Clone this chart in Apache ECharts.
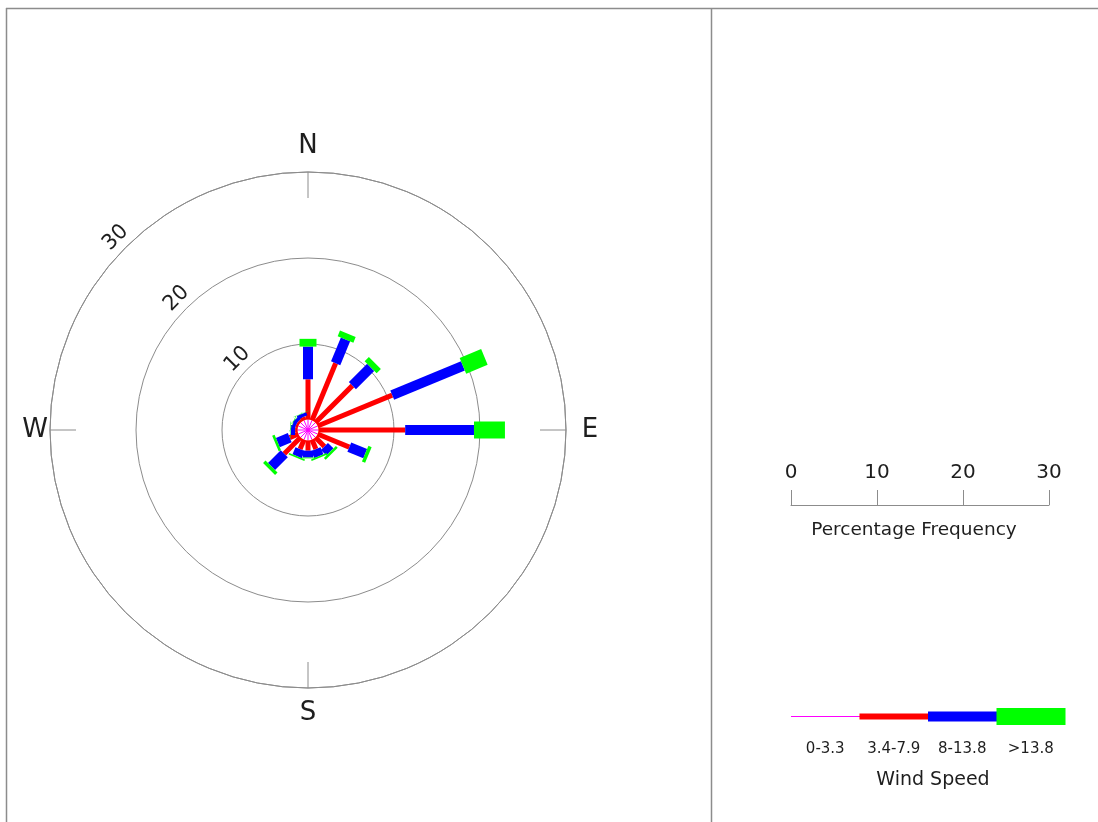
<!DOCTYPE html>
<html>
<head>
<meta charset="utf-8">
<script src="https://cdn.jsdelivr.net/npm/echarts@6/dist/echarts.min.js"></script>
<style>
  html, body { margin: 0; padding: 0; background: #fff; }
  #chart { width: 1098px; height: 822px; }
</style>
</head>
<body>
<div id="chart"></div>
<script>
// Wind direction sectors (degrees clockwise from north)
const directions = ['N', 'NNE', 'NE', 'ENE', 'E', 'ESE', 'SE', 'SSE', 'S', 'SSW', 'SW', 'WSW', 'W', 'WNW', 'NW', 'NNW'];
const dirAngles  = [0, 22.5, 45, 67.5, 90, 112.5, 135, 157.5, 180, 202.5, 225, 247.5, 270, 292.5, 315, 337.5];

// Percentage frequency per wind-speed class, one value per sector
const speed0to33   = [1.2, 1.2, 1.2, 1.2, 1.2, 1.2, 1.2, 1.2, 1.2, 1.2, 1.2, 1.2, 1.2, 1.2, 1.2, 1.2];
const speed34to79  = [4.7, 7.2, 6.1, 9.4, 10.1, 4.0, 1.5, 1.2, 1.2, 1.2, 2.7, 1.1, 0.3, 0.3, 0.3, 0.4];
const speed8to138  = [3.8, 3.0, 3.0, 8.9, 8.0, 2.0, 0.9, 0.9, 0.8, 0.9, 2.1, 1.5, 0.5, 0.4, 0.4, 0.4];
const speedOver138 = [0.9, 0.7, 0.7, 2.7, 3.6, 0.4, 0.3, 0.2, 0.1, 0.2, 0.4, 0.3, 0.05, 0.05, 0.05, 0.05];

const speedClasses  = ['0-3.3', '3.4-7.9', '8-13.8', '>13.8'];
const ringValues    = [10, 20, 30];
const scaleTicks    = [0, 10, 20, 30];
const compassNames  = ['N', 'E', 'S', 'W'];
const compassAngles = [0, 90, 180, 270];

const classColors = ['#ff00ff', '#ff0000', '#0000ff', '#00ff00'];
const classWidths = [1, 5, 10, 17];
const legendHeights = [1, 6, 10, 17];
const compassGap = { N: 26, E: 24, S: 25, W: 15 };   // label centre distance outside the outer ring, px
const FONT = '"DejaVu Sans", sans-serif';
const INK = '#1e1e1e';
const RULE = '#8c8c8c';

const bands = [speed0to33, speed34to79, speed8to138, speedOver138];
const totals = dirAngles.map((_, i) => bands.reduce((s, b) => s + b[i], 0));

// Each sector is a stack of constant-width bars, one per speed class
function renderSector(params, api) {
  const i = params.dataIndex;
  const ang = dirAngles[i];
  const o = api.coord([0, ang]);
  const far = api.coord([30, ang]);
  const len = Math.hypot(far[0] - o[0], far[1] - o[1]);
  const ux = (far[0] - o[0]) / len, uy = (far[1] - o[1]) / len;
  const nx = -uy, ny = ux;
  const children = [];
  let r0 = 0;
  bands.forEach((band, k) => {
    const r1 = r0 + band[i];
    const p0 = api.coord([r0, ang]);
    const p1 = api.coord([r1, ang]);
    if (k === 0) {
      children.push({
        type: 'line',
        shape: { x1: p0[0], y1: p0[1], x2: p1[0], y2: p1[1] },
        style: { stroke: classColors[k], lineWidth: 1 }
      });
    } else {
      const h = classWidths[k] / 2;
      children.push({
        type: 'polygon',
        shape: {
          points: [
            [p0[0] + nx * h, p0[1] + ny * h],
            [p1[0] + nx * h, p1[1] + ny * h],
            [p1[0] - nx * h, p1[1] - ny * h],
            [p0[0] - nx * h, p0[1] - ny * h]
          ]
        },
        style: { fill: classColors[k] }
      });
    }
    r0 = r1;
  });
  return { type: 'group', children };
}

// Point a given number of pixels outside radius value v along bearing ang
function outside(api, v, ang, px) {
  const p = api.coord([v, ang]);
  const o = api.coord([0, ang]);
  const d = Math.hypot(p[0] - o[0], p[1] - o[1]);
  return [p[0] + (p[0] - o[0]) / d * px, p[1] + (p[1] - o[1]) / d * px];
}

// Ring value labels placed along the north-west bearing
function renderRingLabel(params, api) {
  const v = ringValues[params.dataIndex];
  const pt = outside(api, v, 315, 14);
  return {
    type: 'text',
    x: pt[0], y: pt[1],
    rotation: Math.PI / 4,
    style: {
      text: String(v),
      fill: INK,
      font: '21px ' + FONT,
      align: 'center',
      verticalAlign: 'middle'
    }
  };
}

// Cardinal point letters outside the outer ring
function renderCompass(params, api) {
  const name = compassNames[params.dataIndex];
  const pt = outside(api, 30, compassAngles[params.dataIndex], compassGap[name]);
  return {
    type: 'text',
    x: pt[0], y: pt[1],
    style: {
      text: name,
      fill: INK,
      font: '26px ' + FONT,
      align: 'center',
      verticalAlign: 'middle'
    }
  };
}

const chart = echarts.init(document.getElementById('chart'), null, { renderer: 'canvas' });

// Speed-class legend swatches on the right panel
const legendX0 = 791, legendStep = 68.5, legendY = 716.5;
const legendGraphics = [];
speedClasses.forEach((label, k) => {
  const x = legendX0 + k * legendStep;
  const h = legendHeights[k];
  legendGraphics.push({
    type: 'rect',
    shape: { x: x, y: legendY - h / 2, width: legendStep + 0.5, height: h },
    style: { fill: classColors[k] }
  });
  legendGraphics.push({
    type: 'text',
    x: x + legendStep / 2, y: 749,
    style: { text: label, fill: INK, font: '15px ' + FONT, align: 'center', verticalAlign: 'middle' }
  });
});

chart.setOption({
  backgroundColor: '#ffffff',
  animation: false,
  polar: { center: [308, 430], radius: 258 },
  angleAxis: {
    type: 'value',
    min: 0, max: 360, interval: 90,
    startAngle: 90,
    clockwise: true,
    axisLine: { show: true, lineStyle: { color: RULE, width: 1 } },
    axisTick: { show: true, inside: true, length: 26, lineStyle: { color: RULE, width: 1 } },
    axisLabel: { show: false },
    splitLine: { show: false }
  },
  radiusAxis: {
    type: 'value',
    min: 0, max: 30, interval: 10,
    axisLine: { show: false },
    axisTick: { show: false },
    axisLabel: { show: false },
    splitLine: { show: true, lineStyle: { color: RULE, width: 1 } }
  },
  grid: { left: 791, top: 505, width: 258, height: 20, containLabel: false },
  xAxis: {
    type: 'value',
    position: 'top',
    min: 0, max: 30, interval: 10,
    axisLine: { show: true, onZero: false, lineStyle: { color: RULE, width: 1 } },
    axisTick: { show: true, length: 15, lineStyle: { color: RULE, width: 1 } },
    axisLabel: { margin: 22, fontSize: 20, fontFamily: FONT, color: INK, showMinLabel: true, showMaxLabel: true },
    splitLine: { show: false }
  },
  yAxis: { type: 'value', show: false },
  series: [
    {
      type: 'custom',
      coordinateSystem: 'polar',
      renderItem: renderSector,
      data: dirAngles.map((a, i) => [totals[i], a]),
      silent: true
    },
    {
      type: 'custom',
      coordinateSystem: 'polar',
      renderItem: renderRingLabel,
      data: ringValues.map(v => [v, 315]),
      silent: true
    },
    {
      type: 'custom',
      coordinateSystem: 'polar',
      renderItem: renderCompass,
      data: compassAngles.map(a => [30, a]),
      silent: true
    }
  ],
  graphic: [
    // panel frame
    { type: 'line', shape: { x1: 6, y1: 8.5, x2: 1098, y2: 8.5 }, style: { stroke: RULE, lineWidth: 1.5 } },
    { type: 'line', shape: { x1: 6.5, y1: 8, x2: 6.5, y2: 822 }, style: { stroke: RULE, lineWidth: 1.5 } },
    { type: 'line', shape: { x1: 711.5, y1: 8, x2: 711.5, y2: 822 }, style: { stroke: RULE, lineWidth: 1.5 } },
    {
      type: 'text', x: 914, y: 530,
      style: { text: 'Percentage Frequency', fill: INK, font: '18.5px ' + FONT, align: 'center', verticalAlign: 'middle' }
    },
    {
      type: 'text', x: 933, y: 780,
      style: { text: 'Wind Speed', fill: INK, font: '19px ' + FONT, align: 'center', verticalAlign: 'middle' }
    },
    ...legendGraphics
  ]
});
</script>
</body>
</html>
